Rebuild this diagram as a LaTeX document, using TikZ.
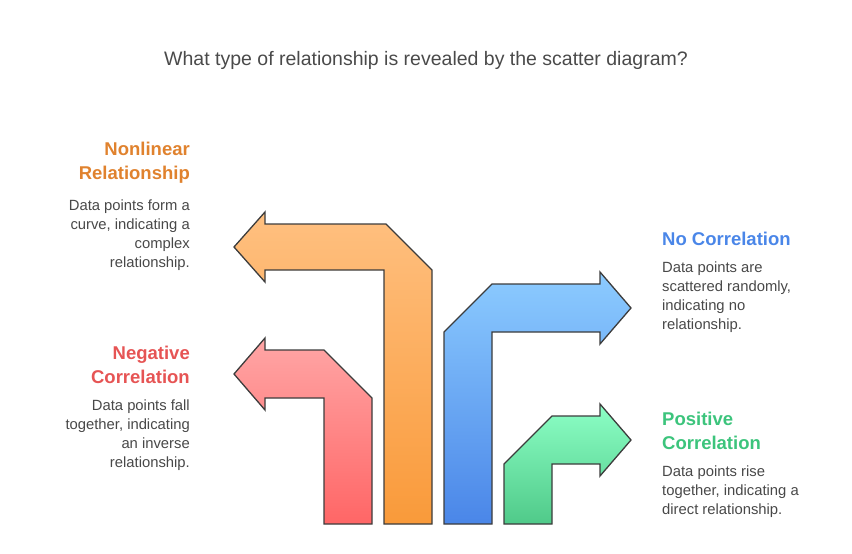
\documentclass[tikz,border=0pt]{standalone}
\usepackage{fontspec}
\setmainfont{Liberation Sans}
\usetikzlibrary{positioning}
\definecolor{titlegray}{HTML}{4A4A4A}
\definecolor{bodygray}{HTML}{484848}
\definecolor{edgegray}{HTML}{3C3C3C}
\definecolor{orangehead}{HTML}{E0822E}
\definecolor{redhead}{HTML}{E65454}
\definecolor{bluehead}{HTML}{4A86E8}
\definecolor{greenhead}{HTML}{3CC47C}
\definecolor{orangetop}{HTML}{FFC080}
\definecolor{orangebot}{HTML}{F99A3A}
\tikzset{
  heading/.style={font=\fontsize{18.5}{24}\selectfont\bfseries, inner sep=0pt},
  lefttext/.style={font=\fontsize{14.8}{19}\selectfont, text=bodygray, align=right, inner sep=0pt, anchor=north east},
  righttext/.style={font=\fontsize{14.8}{19}\selectfont, text=bodygray, align=left, inner sep=0pt, anchor=north west},
  arrowbody/.style={draw=edgegray, line width=1.3pt, line join=miter}
}
\begin{document}
\begin{tikzpicture}[x=1pt,y=-1pt]
  \useasboundingbox (0,0) rectangle (852,554);
  % title
  \node (title) [font=\fontsize{19.5}{22}\selectfont, text=titlegray] at (426,60) {What type of relationship is revealed by the scatter diagram?};
  % arrows
  \shade[arrowbody, top color=orangetop, bottom color=orangebot]
    (384,524) -- (432,524) -- (432,270) -- (386,224) -- (265,224) -- (265,212) -- (234,247)
    -- (265,282) -- (265,270) -- (384,270) -- cycle;
  \shade[arrowbody, top color=red!35!white, bottom color=red!60!white]
    (324,524) -- (372,524) -- (372,398) -- (324,350) -- (265,350) -- (265,338) -- (234,374)
    -- (265,410) -- (265,398) -- (324,398) -- cycle;
  \shade[arrowbody, top color=blue!45!cyan!45!white, bottom color=bluehead]
    (444,524) -- (492,524) -- (492,332) -- (600,332) -- (600,344) -- (631,308)
    -- (600,272) -- (600,284) -- (492,284) -- (444,332) -- cycle;
  \shade[arrowbody, top color=green!50!cyan!45!white, bottom color=greenhead!90!white]
    (504,524) -- (552,524) -- (552,464) -- (600,464) -- (600,476) -- (631,440)
    -- (600,404) -- (600,416) -- (552,416) -- (504,464) -- cycle;
  % left labels
  \node (nonlinear) [heading, text=orangehead, align=right, anchor=north east] at (190,142) {Nonlinear\\Relationship};
  \node (nonlineartxt) [lefttext] at ([yshift=-16pt]nonlinear.south east) {Data points form a\\curve, indicating a\\complex\\relationship.};
  \node (negative) [heading, text=redhead, align=right, anchor=north east] at (190,346) {Negative\\Correlation};
  \node (negativetxt) [lefttext] at ([yshift=-16pt]negative.south east) {Data points fall\\together, indicating\\an inverse\\relationship.};
  % right labels
  \node (nocorr) [heading, text=bluehead, anchor=north west] at (662,232) {No Correlation};
  \node (nocorrtxt) [righttext] at ([yshift=-16pt]nocorr.south west) {Data points are\\scattered randomly,\\indicating no\\relationship.};
  \node (positive) [heading, text=greenhead, align=left, anchor=north west] at (662,412) {Positive\\Correlation};
  \node (positivetxt) [righttext] at ([yshift=-16pt]positive.south west) {Data points rise\\together, indicating a\\direct relationship.};
\end{tikzpicture}
\end{document}
